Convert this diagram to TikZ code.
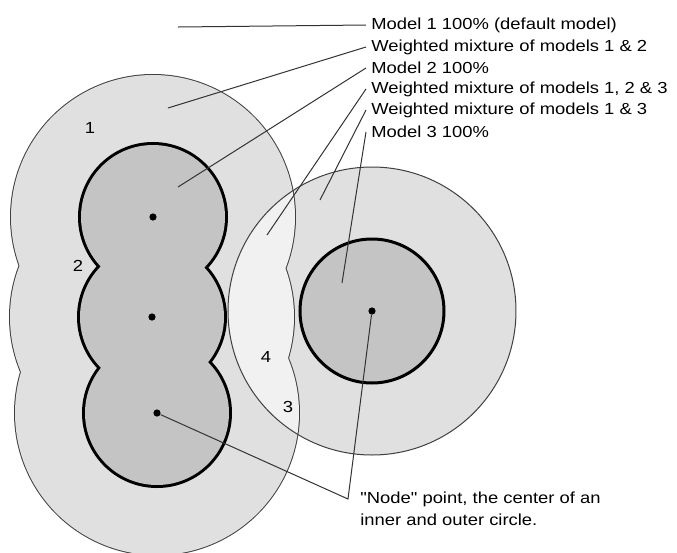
\documentclass[tikz,border=0pt]{standalone}
\usepackage{fontspec}
\newfontfamily\labelfont{Liberation Sans}[FakeStretch=1.15]
\usetikzlibrary{positioning}
\definecolor{outergray}{gray}{0.88}
\definecolor{innergray}{gray}{0.77}
\definecolor{mixgray}{gray}{0.945}
\definecolor{edgegray}{gray}{0.25}

\begin{document}
\begin{tikzpicture}[x=0.5pt, y=-0.5pt,
  lbl/.style={font=\labelfont\fontsize{8}{11}\selectfont, inner xsep=2.5pt, inner ysep=1pt},
  num/.style={font=\labelfont\fontsize{8}{11}\selectfont, inner sep=0pt},
  dot/.style={circle, fill=black, inner sep=0pt, minimum size=3.6pt},
  leader/.style={draw=black!80, line width=0.5pt}]
  \useasboundingbox (0,0) rectangle (677,553);
  % outer circles, three nodes on the left
  \draw[edgegray, line width=1pt] (153,217) circle (142) (152,317) circle (142) (157,413) circle (142);
  \fill[outergray] (153,217) circle (142) (152,317) circle (142) (157,413) circle (142);
  % outer circle of the right node
  \fill[outergray] (372,311) circle (144);
  % overlap of all models
  \begin{scope}
    \clip (372,311) circle (144);
    \draw[edgegray, line width=1pt] (153,217) circle (142) (152,317) circle (142) (157,413) circle (142);
    \fill[mixgray] (153,217) circle (142) (152,317) circle (142) (157,413) circle (142);
  \end{scope}
  \draw[edgegray, line width=0.5pt] (372,311) circle (144);
  % inner circles
  \draw[black, line width=3pt] (153,217) circle (72) (152,317) circle (72) (157,413) circle (72);
  \fill[innergray] (153,217) circle (72) (152,317) circle (72) (157,413) circle (72);
  \draw[black, line width=1.5pt, fill=innergray] (372,311) circle (72);
  % node points
  \node[dot] (n1) at (153,217) {};
  \node[dot] (n2) at (152,317) {};
  \node[dot] (n3) at (157,413) {};
  \node[dot] (n4) at (372,311) {};
  % region numbers
  \node[num] (r1) at (90,128) {1};
  \node[num] (r2) at (78,266) {2};
  \node[num] (r4) at (266,357) {4};
  \node[num] (r3) at (288,407) {3};
  % legend
  \node[lbl, anchor=west] (m1) at (366,25) {Model 1 100\% (default model)};
  \node[lbl, anchor=west] (w12) at (366,47) {Weighted mixture of models 1 \& 2};
  \node[lbl, anchor=west] (m2) at (366,68) {Model 2 100\%};
  \node[lbl, anchor=west] (w123) at (366,89) {Weighted mixture of models 1, 2 \& 3};
  \node[lbl, anchor=west] (w13) at (366,110) {Weighted mixture of models 1 \& 3};
  \node[lbl, anchor=west] (m3) at (366,132) {Model 3 100\%};
  \node[lbl, anchor=north west, align=left, inner ysep=0pt] (note) at (355,491)
    {"Node" point, the center of an\\inner and outer circle.};
  % leader ends
  \coordinate (p1) at (178,27);
  \coordinate (p12) at (168,108);
  \coordinate (p2) at (178,187);
  \coordinate (p123) at (267,235);
  \coordinate (p13) at (320,200);
  \coordinate (p3) at (342,283);
  \coordinate (nc) at (348,499);
  \draw[leader] (m1.west) -- (p1);
  \draw[leader] (w12.west) -- (p12);
  \draw[leader] (m2.west) -- (p2);
  \draw[leader] (w123.west) -- (p123);
  \draw[leader] (w13.west) -- (p13);
  \draw[leader] (m3.west) -- (p3);
  \draw[leader] (n3) -- (nc) -- (n4);
\end{tikzpicture}
\end{document}
